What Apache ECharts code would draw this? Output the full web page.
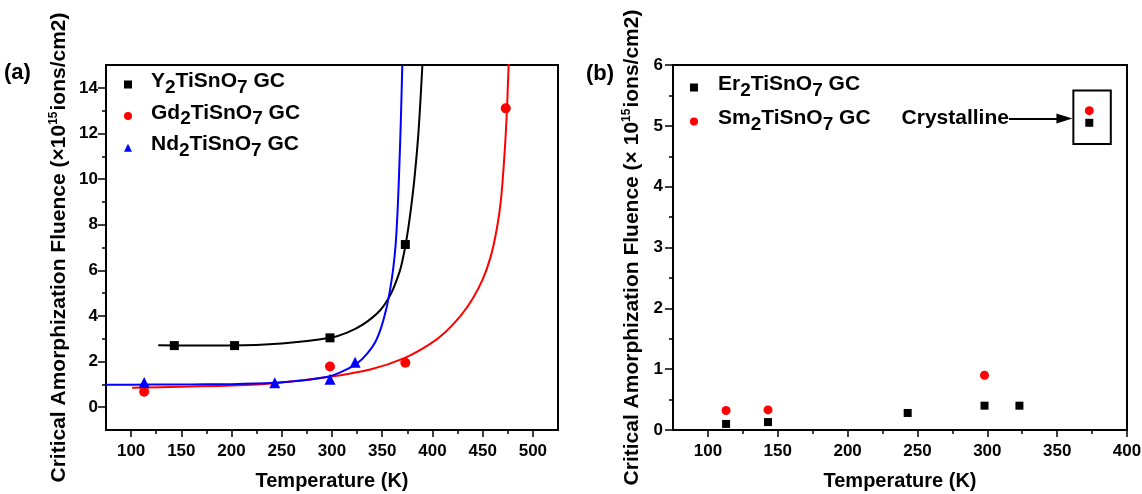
<!DOCTYPE html>
<html>
<head>
<meta charset="utf-8">
<script src="https://cdn.jsdelivr.net/npm/echarts@6/dist/echarts.min.js"></script>
<style>
  html, body { margin: 0; padding: 0; background: #fff; }
  #chart { width: 1142px; height: 494px; }
</style>
</head>
<body>
<div id="chart"></div>
<script>
// ---- Panel (a): glass-ceramics with fitted temperature dependence ----
const y2Name = 'Y2TiSnO7 GC';
const gdName = 'Gd2TiSnO7 GC';
const ndName = 'Nd2TiSnO7 GC';

// [temperature K, fluence x1e15 ions/cm2]
const y2Points = [[143, 2.7], [203, 2.7], [298, 3.04], [373, 7.13]];
const gdPoints = [[113, 0.68], [298, 1.78], [373, 1.95], [473, 13.1]];
const ndPoints = [[113, 1.08], [243, 1.07], [298, 1.22], [323, 1.97]];

// fitted curves
const y2Fit = [[127, 2.71], [160, 2.7], [200, 2.7], [250, 2.79], [298, 3.04], [315, 3.27],
  [331, 3.63], [348, 4.25], [359, 5.0], [367, 5.9], [370, 6.4], [374, 7.3], [378, 8.5],
  [382, 10.0], [386, 12.0], [390, 15.0]];
const gdFit = [[101, 0.85], [150, 0.9], [200, 0.95], [243, 1.05], [298, 1.33], [338, 1.65],
  [372, 2.15], [397, 2.75], [413, 3.3], [428, 4.0], [440, 4.75], [450, 5.6], [458, 6.6],
  [464, 7.8], [468, 9.0], [471, 10.6], [473, 12.0], [474.5, 13.4], [476, 15.2]];
const ndFit = [[75, 0.98], [120, 0.99], [160, 1.0], [200, 1.01], [243, 1.07], [270, 1.17],
  [298, 1.36], [312, 1.6], [325, 1.92], [335, 2.35], [343, 2.85], [349, 3.5], [354, 4.3],
  [358, 5.2], [361, 6.1], [363.5, 7.2], [365.5, 8.8], [367, 10.5], [368.5, 12.5], [370, 15.0]];

// ---- Panel (b) ----
const erName = 'Er2TiSnO7 GC';
const smName = 'Sm2TiSnO7 GC';
const erPoints = [[113, 0.1], [143, 0.13], [243, 0.28], [298, 0.4], [323, 0.4], [373, 5.05]];
const smPoints = [[113, 0.32], [143, 0.33], [298, 0.9], [373, 5.25]];
const crystallineLabel = 'Crystalline';

// ---- tick values ----
const aTicksX = [100, 150, 200, 250, 300, 350, 400, 450, 500];
const aMinorX = [125, 175, 225, 275, 325, 375, 425, 475];
const aTicksY = [0, 2, 4, 6, 8, 10, 12, 14];
const aMinorY = [1, 3, 5, 7, 9, 11, 13];
const bTicksX = [100, 150, 200, 250, 300, 350, 400];
const bMinorX = [125, 175, 225, 275, 325, 375];
const bTicksY = [0, 1, 2, 3, 4, 5, 6];
const bMinorY = [0.5, 1.5, 2.5, 3.5, 4.5, 5.5];

const xTitle = 'Temperature (K)';
const yTitleA = '{t|Critical Amorphization Fluence (×10}{sup|15}{t|ions/cm2)}';
const yTitleB = '{t|Critical Amorphization Fluence (× 10}{sup|15}{t|ions/cm2)}';

const FONT = '"Liberation Sans", Arial, sans-serif';
const BLACK = '#000000';
const RED = '#ff0000';
const BLUE = '#0000ff';

const boldText = (size) => ({ fontFamily: FONT, fontWeight: 'bold', fontSize: size, color: BLACK });

function mainX(grid, min, max, ticks) {
  return {
    type: 'value', gridIndex: grid, min: min, max: max, position: 'bottom',
    name: xTitle, nameLocation: 'middle', nameGap: 41,
    nameTextStyle: boldText(20),
    axisLine: { show: false, onZero: false },
    splitLine: { show: false },
    axisTick: { show: true, customValues: ticks, length: 7, lineStyle: { color: BLACK, width: 1.5 } },
    axisLabel: Object.assign({ customValues: ticks, margin: 13 }, boldText(17))
  };
}
function minorX(grid, min, max, ticks) {
  return {
    type: 'value', gridIndex: grid, min: min, max: max, position: 'bottom',
    axisLine: { show: false, onZero: false },
    splitLine: { show: false },
    axisLabel: { show: false },
    axisTick: { show: true, customValues: ticks, length: 4, lineStyle: { color: BLACK, width: 1.5 } }
  };
}
function mainY(grid, min, max, ticks, title, gap, margin) {
  return {
    type: 'value', gridIndex: grid, min: min, max: max, position: 'left',
    name: title, nameLocation: 'middle', nameRotate: 90, nameGap: gap,
    nameTextStyle: {
      rich: {
        t: { fontFamily: FONT, fontWeight: 'bold', fontSize: 21, color: BLACK, lineHeight: 22 },
        sup: { fontFamily: FONT, fontWeight: 'bold', fontSize: 12, color: BLACK, lineHeight: 22, padding: [0, 1, 10, 0] }
      }
    },
    axisLine: { show: false, onZero: false },
    splitLine: { show: false },
    axisTick: { show: true, customValues: ticks, length: 8, lineStyle: { color: BLACK, width: 1.5 } },
    axisLabel: Object.assign({ customValues: ticks, margin: margin }, boldText(17))
  };
}
function minorY(grid, min, max, ticks) {
  return {
    type: 'value', gridIndex: grid, min: min, max: max, position: 'left',
    axisLine: { show: false, onZero: false },
    splitLine: { show: false },
    axisLabel: { show: false },
    axisTick: { show: true, customValues: ticks, length: 4, lineStyle: { color: BLACK, width: 1.5 } }
  };
}

// chemical formula with lowered digits
function formula(name) {
  const parts = name.split(/(\d)/);
  return parts.map((p, i) => {
    if (i === 0) return '{f|' + p + '}';
    return (i % 2 === 1 ? '{s|' : '{n|') + p + '}';
  }).join('');
}
function legendRich(lead) {
  const n = { fontFamily: FONT, fontWeight: 'bold', fontSize: 21, color: BLACK, lineHeight: 21, padding: [0, 0, 6, 0] };
  return {
    f: Object.assign({}, n, { padding: [0, 0, 6, lead] }),
    n: n,
    s: { fontFamily: FONT, fontWeight: 'bold', fontSize: 19, color: BLACK, lineHeight: 21, padding: [6, 0, 0, 0] }
  };
}

function fitLine(data, color, xi, yi) {
  return {
    type: 'line', data: data, xAxisIndex: xi, yAxisIndex: yi,
    showSymbol: false, symbol: 'none', smooth: 0.3,
    lineStyle: { color: color, width: 2 }, silent: true, z: 1, clip: true
  };
}
function points(name, data, symbol, size, color, xi, yi) {
  return {
    type: 'scatter', name: name, data: data, xAxisIndex: xi, yAxisIndex: yi,
    symbol: symbol, symbolSize: size, itemStyle: { color: color, opacity: 1 }, z: 3
  };
}

const erSeries = points(erName, erPoints, 'rect', 8, BLACK, 2, 2);
erSeries.markArea = {
  silent: true,
  itemStyle: { color: 'rgba(0,0,0,0)', borderColor: BLACK, borderWidth: 2 },
  data: [[{ coord: [361.6, 5.58] }, { coord: [388.4, 4.70] }]]
};
erSeries.markLine = {
  silent: true,
  symbol: ['none', 'triangle'],
  symbolSize: [10, 16],
  lineStyle: { color: BLACK, width: 2, type: 'solid' },
  label: Object.assign({ show: true, position: 'start', distance: 0, formatter: crystallineLabel }, boldText(21)),
  data: [[{ coord: [315.5, 5.12] }, { coord: [355.2, 5.12] }]]
};

const gridBase = { show: true, borderColor: BLACK, borderWidth: 2, backgroundColor: 'rgba(0,0,0,0)', containLabel: false, outerBoundsMode: 'none' };

const option = {
  animation: false,
  backgroundColor: '#ffffff',
  title: [
    { text: '(a)', left: 4, top: 62, padding: 0, textStyle: boldText(22) },
    { text: '(b)', left: 586, top: 63, padding: 0, textStyle: boldText(22) }
  ],
  grid: [
    Object.assign({ left: 106, right: 584, top: 65, bottom: 64 }, gridBase),
    Object.assign({ left: 673, right: 15, top: 65, bottom: 64 }, gridBase)
  ],
  xAxis: [
    mainX(0, 75, 525, aTicksX),
    minorX(0, 75, 525, aMinorX),
    mainX(1, 75, 400, bTicksX),
    minorX(1, 75, 400, bMinorX)
  ],
  yAxis: [
    mainY(0, -1, 15, aTicksY, yTitleA, 36, 8),
    minorY(0, -1, 15, aMinorY),
    mainY(1, 0, 6, bTicksY, yTitleB, 30, 10),
    minorY(1, 0, 6, bMinorY)
  ],
  legend: [
    {
      data: [{ name: y2Name, icon: 'rect' }, { name: gdName, icon: 'circle' }, { name: ndName, icon: 'triangle' }],
      orient: 'vertical', left: 124, top: 71, padding: 0,
      itemWidth: 8, itemHeight: 8, itemGap: 4.6, selectedMode: false,
      formatter: formula,
      textStyle: { rich: legendRich(14) }
    },
    {
      data: [{ name: erName, icon: 'rect' }, { name: smName, icon: 'circle' }],
      orient: 'vertical', left: 690, top: 74, padding: 0,
      itemWidth: 8, itemHeight: 8, itemGap: 7, selectedMode: false,
      formatter: formula,
      textStyle: { rich: legendRich(15) }
    }
  ],
  series: [
    fitLine(y2Fit, BLACK, 0, 0),
    fitLine(gdFit, RED, 0, 0),
    fitLine(ndFit, BLUE, 0, 0),
    points(y2Name, y2Points, 'rect', 9, BLACK, 0, 0),
    points(gdName, gdPoints, 'circle', 10, RED, 0, 0),
    points(ndName, ndPoints, 'triangle', 11, BLUE, 0, 0),
    erSeries,
    points(smName, smPoints, 'circle', 9, RED, 2, 2)
  ]
};

const chart = echarts.init(document.getElementById('chart'), null, { renderer: 'canvas' });
chart.setOption(option);
</script>
</body>
</html>
